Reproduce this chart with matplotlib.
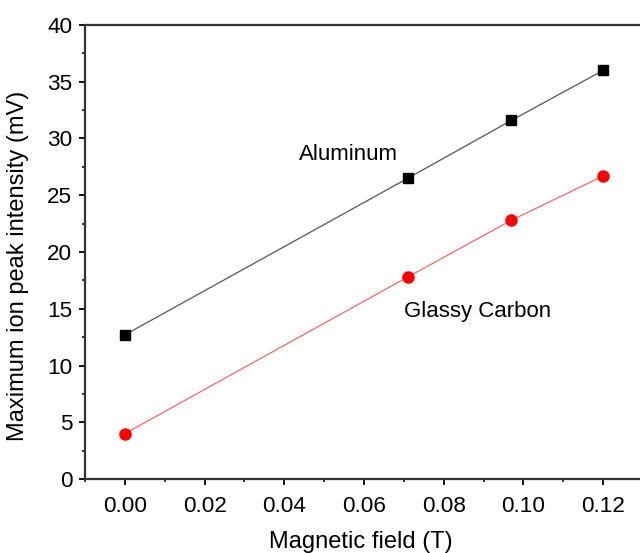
import numpy as np
import matplotlib
matplotlib.use('Agg')
import matplotlib.pyplot as plt
from matplotlib.ticker import MultipleLocator

plt.rcParams['font.family'] = ['Liberation Sans', 'DejaVu Sans']

field = [0.0, 0.071, 0.097, 0.12]
aluminum = [12.7, 26.5, 31.6, 36.0]
glassy_carbon = [4.0, 17.8, 22.8, 26.7]

fig = plt.figure(figsize=(6.4, 5.53), dpi=100)
ax = fig.add_axes([85 / 640, 1 - 479 / 553, (643 - 85) / 640, (479 - 25) / 553])

ax.plot(field, aluminum, color='#555555', lw=0.9, marker='s', ms=7.5,
        mfc='black', mec='black')
ax.plot(field, glassy_carbon, color='#ff6666', lw=0.9, marker='o', ms=8,
        mfc='red', mec='red')

ax.text(0.056, 28.6, 'Aluminum', fontsize=16, ha='center', va='center')
ax.text(0.0885, 14.8, 'Glassy Carbon', fontsize=16, ha='center', va='center')

ax.set_xlim(-0.01, 0.13)
ax.set_ylim(0, 40)
ax.xaxis.set_minor_locator(MultipleLocator(0.01))
ax.yaxis.set_major_locator(MultipleLocator(5))
ax.yaxis.set_minor_locator(MultipleLocator(2.5))
ticks = np.arange(0, 0.121, 0.02)
ax.set_xticks(ticks)
ax.set_xticklabels(['%.2f' % v for v in ticks])
ax.tick_params(which='major', direction='out', length=4, width=1.3,
               labelsize=16.2, top=False, right=False)
ax.tick_params(which='minor', direction='out', length=2.5, width=1.1,
               top=False, right=False)
ax.tick_params(axis='x', pad=8)
ax.tick_params(axis='y', pad=5)
for s in ax.spines.values():
    s.set_linewidth(1.6)
    s.set_color('#333333')

ax.set_xlabel('Magnetic field (T)', fontsize=17)
ax.set_ylabel('Maximum ion peak intensity (mV)', fontsize=17)
ax.xaxis.set_label_coords(0.495, -0.115)
ax.yaxis.set_label_coords(-0.101, 0.469)

fig.savefig('out.png', dpi=100)
